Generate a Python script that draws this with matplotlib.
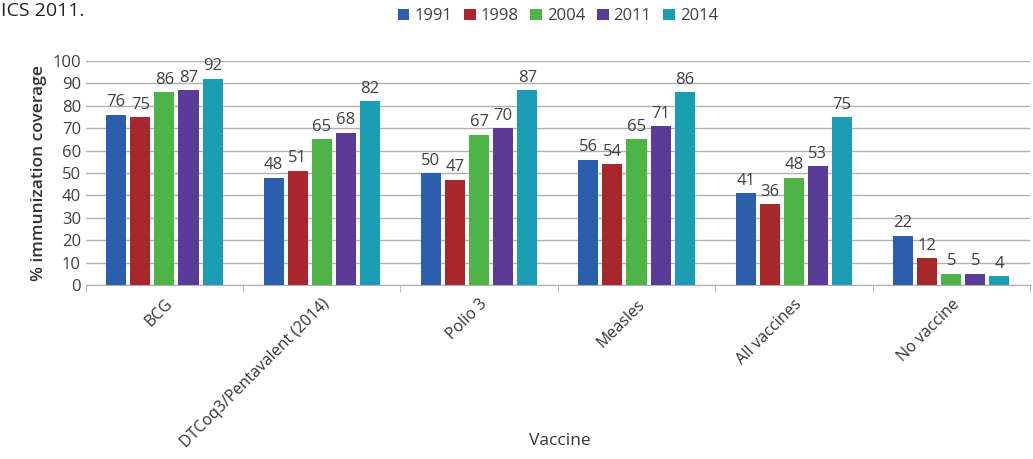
import numpy as np
import matplotlib.pyplot as plt

plt.rcParams['font.family'] = ['Open Sans', 'DejaVu Sans']

# data
vaccines = ["BCG", "DTCoq3/Pentavalent (2014)", "Polio 3", "Measles", "All vaccines", "No vaccine"]
years = ["1991", "1998", "2004", "2011", "2014"]
v1991 = [76, 48, 50, 56, 41, 22]
v1998 = [75, 51, 47, 54, 36, 12]
v2004 = [86, 65, 67, 65, 48, 5]
v2011 = [87, 68, 70, 71, 53, 5]
v2014 = [92, 82, 87, 86, 75, 4]
series = [v1991, v1998, v2004, v2011, v2014]
colors = ["#2b5fad", "#a8272d", "#4fb448", "#5a3b98", "#1b9db3"]

fig = plt.figure(figsize=(10.33, 4.59), dpi=100)
ax = fig.add_axes([0.083, 0.379, 0.914, 0.488])

x = np.arange(len(vaccines))
pitch = 0.153
width = 0.128
for i, vals in enumerate(series):
    pos = x + (i - 2) * pitch
    ax.bar(pos, vals, width, color=colors[i], label=years[i], zorder=3)
    for p, v in zip(pos, vals):
        ax.text(p, v + 2, str(v), ha="center", va="bottom", fontsize=12, color="#404040")

ax.set_xlim(-0.5, len(vaccines) - 0.5)
ax.set_ylim(0, 100)
ax.set_yticks(range(0, 101, 10))
ax.tick_params(axis="y", length=0, labelsize=12, colors="#404040")
ax.grid(axis="y", color="#b0b0b0", linewidth=1, zorder=0)

ax.set_xticks(x)
ax.set_xticklabels(vaccines, rotation=45, ha="right", rotation_mode="anchor", fontsize=11.5, color="#333333")
ax.tick_params(axis="x", length=0, pad=8)
ax.set_xticks(np.arange(-0.5, len(vaccines)), minor=True)
ax.tick_params(axis="x", which="minor", length=5, color="#b0b0b0")

for s in ["top", "right", "left"]:
    ax.spines[s].set_visible(False)
ax.spines["bottom"].set_color("#b0b0b0")

ax.set_ylabel("% immunization coverage", fontsize=12.5, color="#333333", fontweight="semibold")
fig.text(0.542, 0.03, "Vaccine", ha="center", fontsize=12.5, color="#333333")
fig.text(0.001, 0.975, "ICS 2011.", ha="left", va="center", fontsize=14, color="#222222")

ax.legend(loc="center", bbox_to_anchor=(0.5, 1.2), ncol=5, frameon=False, fontsize=12,
          handlelength=0.7, handleheight=0.7, handletextpad=0.3, columnspacing=0.7,
          labelcolor="#404040")

fig.savefig("out.png", dpi=100)
